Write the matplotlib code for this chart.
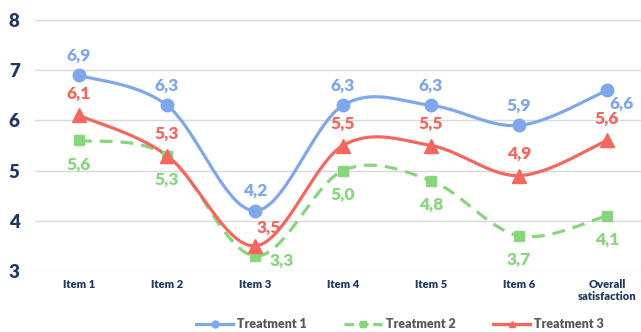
import numpy as np
import matplotlib
matplotlib.use("Agg")
import matplotlib.pyplot as plt
from matplotlib.lines import Line2D

categories = ["Item 1", "Item 2", "Item 3", "Item 4", "Item 5", "Item 6", "Overall\nsatisfaction"]
treatment1 = [6.9, 6.3, 4.2, 6.3, 6.3, 5.9, 6.6]
treatment2 = [5.6, 5.3, 3.3, 5.0, 4.8, 3.7, 4.1]
treatment3 = [6.1, 5.3, 3.5, 5.5, 5.5, 4.9, 5.6]
series_names = ["Treatment 1", "Treatment 2", "Treatment 3"]
yticks = [3, 4, 5, 6, 7, 8]

c_blue = "#7FA7EC"
c_green = "#88D67B"
c_red = "#F4675F"
c_tick = "#1F3864"

plt.rcParams['font.family'] = ['Lato', 'DejaVu Sans']

def smooth(xs, ys, n=40):
    x = np.asarray(xs, float); y = np.asarray(ys, float)
    P = np.stack([x, y], axis=1)
    out = [P[0]]
    for i in range(len(P) - 1):
        p0 = P[i - 1] if i > 0 else P[i]
        p1 = P[i]; p2 = P[i + 1]
        p3 = P[i + 2] if i + 2 < len(P) else P[i + 1]
        c1 = p1 + (p2 - p0) / 6.0
        c2 = p2 - (p3 - p1) / 6.0
        t = np.linspace(0, 1, n)[1:, None]
        seg = (1 - t) ** 3 * p1 + 3 * (1 - t) ** 2 * t * c1 + 3 * (1 - t) * t ** 2 * c2 + t ** 3 * p2
        out.extend(seg)
    out = np.array(out)
    return out[:, 0], out[:, 1]

fig = plt.figure(figsize=(6.41, 3.32), dpi=100)
ax = fig.add_axes([35 / 641, 61 / 332, 616 / 641, 251 / 332])
ax.set_xlim(-0.5, 6.5)
ax.set_ylim(3, 8)

xs = np.arange(len(categories))
for vals, col, mk, ls, ms in [(treatment1, c_blue, "o", "-", 9),
                              (treatment2, c_green, "s", (0, (4, 2.5)), 7),
                              (treatment3, c_red, "^", "-", 9.5)]:
    sx, sy = smooth(xs, vals)
    ax.plot(sx, sy, color=col, lw=2.3, ls=ls, zorder=3, solid_capstyle="round")
    ax.plot(xs, vals, ls="none", marker=mk, ms=ms, color=col, zorder=4)

def fmt(v):
    return f"{v:.1f}".replace(".", ",")

lab_kw = dict(fontsize=12.5, fontweight="heavy", ha="center", va="center", zorder=5)
# Treatment 1 labels (above)
for i, v in enumerate(treatment1):
    dx, dy = 0, 20
    if i == 6:
        dx, dy = 15, -13
    ax.annotate(fmt(v), (i, v), xytext=(dx * 0.72, dy * 0.72), textcoords="offset points", color=c_blue, **lab_kw)
# Treatment 3 labels (above)
for i, v in enumerate(treatment3):
    dx, dy = 0, 22
    if i == 2:
        dx, dy = 14, 18
    ax.annotate(fmt(v), (i, v), xytext=(dx * 0.72, dy * 0.72), textcoords="offset points", color=c_red, **lab_kw)
# Treatment 2 labels (below)
for i, v in enumerate(treatment2):
    dx, dy = 0, -24
    if i == 2:
        dx, dy = 27, -5
    ax.annotate(fmt(v), (i, v), xytext=(dx * 0.72, dy * 0.72), textcoords="offset points", color=c_green, **lab_kw)

ax.set_yticks(yticks)
ax.set_yticklabels([str(t) for t in yticks], fontsize=13.5, fontweight="heavy", color=c_tick)
ax.set_xticks(xs)
ax.set_xticklabels(categories, fontsize=8, fontweight="heavy", color=c_tick, linespacing=1.1)
ax.tick_params(axis="both", length=0)
ax.tick_params(axis="y", pad=11)
ax.tick_params(axis="x", pad=6)
ax.grid(axis="y", color="#D9D9D9", lw=1)
ax.set_axisbelow(True)
for s in ax.spines.values():
    s.set_visible(False)

handles = [Line2D([], [], color=c_blue, lw=2.3, marker="o", ms=5),
           Line2D([], [], color=c_green, lw=2.3, ls=(0, (3, 1.5)), marker="s", ms=5),
           Line2D([], [], color=c_red, lw=2.3, marker="^", ms=5)]
leg = fig.legend(handles, series_names, loc="center", bbox_to_anchor=(400 / 641, 1 - 324 / 332),
                 ncol=3, frameon=False, handlelength=3, columnspacing=3.0, handletextpad=0.3,
                 prop={"size": 9, "weight": "heavy"})
for t in leg.get_texts():
    t.set_color("#595959")

fig.savefig("out.png", dpi=100)
